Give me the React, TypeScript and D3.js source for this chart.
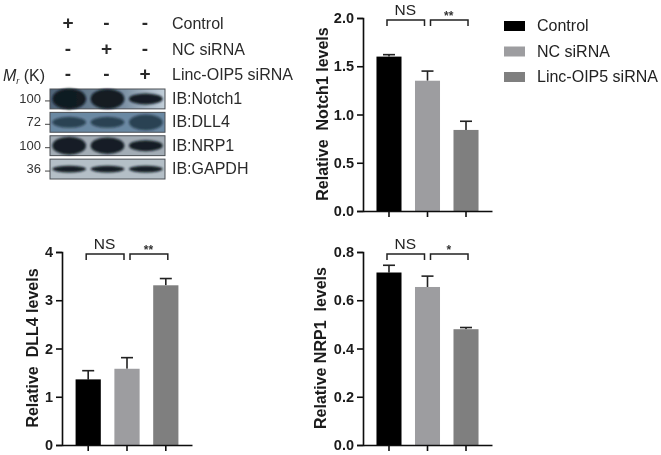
import React, { useEffect, useRef } from 'react';
import * as d3 from 'd3';

const groups = ['Control', 'NC siRNA', 'Linc-OIP5 siRNA'];
const colors = ['#000000', '#9d9da0', '#7f7f7f'];

const notch1Values = [1.6, 1.35, 0.84];
const notch1Errors = [0.02, 0.1, 0.09];
const notch1Ticks = [0, 0.5, 1, 1.5, 2];

const dll4Values = [1.36, 1.58, 3.31];
const dll4Errors = [0.18, 0.23, 0.14];
const dll4Ticks = [0, 1, 2, 3, 4];

const nrp1Values = [0.715, 0.655, 0.48];
const nrp1Errors = [0.03, 0.045, 0.007];
const nrp1Ticks = [0, 0.2, 0.4, 0.6, 0.8];

const plusMinus = [
  ['+', '-', '-'],
  ['-', '+', '-'],
  ['-', '-', '+'],
];
const blotNames = ['IB:Notch1', 'IB:DLL4', 'IB:NRP1', 'IB:GAPDH'];
const blotWeights = ['100', '72', '100', '36'];
const blotBackgrounds = ['url(#notchBg)', '#6b89a3', '#a3adb6', '#b4bfc7'];
const blotBands = [
  [0.95, 0.9, 0.42],
  [0.42, 0.42, 0.68],
  [0.8, 0.72, 0.42],
  [0.2, 0.2, 0.2],
];
const blotDarkness = [0.95, 0.6, 0.95, 0.95];

const FONT = '"Liberation Sans", Arial, sans-serif';

const Panel = ({ left, right, top, bottom, max, ticks, tickFormat, values, errors, label, labelX, labelY, star, bracketY }: any) => {
  const yRef = useRef<SVGGElement>(null);
  const xRef = useRef<SVGGElement>(null);

  const x = d3.scaleBand().domain(groups).range([left, right]).paddingInner(0.35).paddingOuter(0.35);
  const y = d3.scaleLinear().domain([0, max]).range([bottom, top]);

  useEffect(() => {
    const yAxis = d3.axisLeft(y).tickValues(ticks).tickSize(6).tickPadding(3).tickFormat(tickFormat);
    const yG = d3.select(yRef.current).call(yAxis as any);
    yG.selectAll('path,line').attr('stroke', '#111').attr('stroke-width', 1.6);
    yG.selectAll('text')
      .attr('fill', '#1a1a1a')
      .style('font-family', FONT)
      .style('font-size', '14.5px')
      .style('font-weight', 'bold');

    const xG = d3.select(xRef.current).call(d3.axisBottom(x).tickSize(6).tickSizeOuter(0).tickFormat(() => '') as any);
    xG.selectAll('path,line').attr('stroke', '#111').attr('stroke-width', 1.6);
  }, []);

  const cx = (i: number) => (x(groups[i]) as number) + x.bandwidth() / 2;
  const bracket = (a: number, b: number) =>
    `M${cx(a) - 2},${bracketY + 6}V${bracketY}H${cx(b) - 3}V${bracketY + 6}`;
  const bracket2 = (a: number, b: number) =>
    `M${cx(a) + 3},${bracketY + 6}V${bracketY}H${cx(b) + 2}V${bracketY + 6}`;

  return (
    <g>
      {values.map((v: number, i: number) => (
        <g key={groups[i]}>
          <line x1={cx(i)} x2={cx(i)} y1={y(v)} y2={y(v + errors[i])} stroke="#222" strokeWidth={1.6} />
          <line x1={cx(i) - 6} x2={cx(i) + 6} y1={y(v + errors[i])} y2={y(v + errors[i])} stroke="#222" strokeWidth={1.6} />
          <rect x={x(groups[i])} y={y(v)} width={x.bandwidth()} height={bottom - y(v)} fill={colors[i]} />
        </g>
      ))}
      <g ref={yRef} transform={`translate(${left},0)`} />
      <g ref={xRef} transform={`translate(0,${bottom})`} />
      <path d={bracket(0, 1)} fill="none" stroke="#222" strokeWidth={1.5} />
      <path d={bracket2(1, 2)} fill="none" stroke="#222" strokeWidth={1.5} />
      <text x={(cx(0) + cx(1)) / 2 - 3} y={bracketY - 5} textAnchor="middle" fontSize={15.5} fill="#222">NS</text>
      <text x={(cx(1) + cx(2)) / 2 + 2} y={bracketY + 0} textAnchor="middle" fontSize={12} fontWeight="bold" fill="#333">{star}</text>
      <text
        transform={`translate(${labelX},${labelY}) rotate(-90)`}
        textAnchor="middle"
        fontSize={16}
        fontWeight="bold"
        fill="#1a1a1a"
        style={{ whiteSpace: 'pre' }}
      >
        {label}
      </text>
    </g>
  );
};

const Blot = () => {
  const lanes = d3.scaleBand<number>().domain([0, 1, 2]).range([50, 165]).paddingInner(0.12).paddingOuter(0.06);
  const rows = d3.scaleBand<number>().domain([0, 1, 2, 3]).range([89, 179]).paddingInner(0.15).paddingOuter(0);
  const bandHeight = d3.scaleLinear().domain([0, 1]).range([1, rows.bandwidth()]);
  const headerX = d3.scalePoint<number>().domain([0, 1, 2]).range([68, 145]);
  const headerY = d3.scalePoint<number>().domain([0, 1, 2]).range([23, 74]);

  return (
    <g fill="#2a2a2a">
      {plusMinus.map((row, r) => (
        <g key={r}>
          {row.map((s, c) => (
            <text key={c} x={headerX(c)} y={(headerY(r) as number) + 6} textAnchor="middle" fontSize={19} fontWeight="bold">{s}</text>
          ))}
          <text x={172} y={(headerY(r) as number) + 6} fontSize={16}>{groups[r]}</text>
        </g>
      ))}
      <text x={3} y={81} fontSize={16}>
        <tspan fontStyle="italic">M</tspan>
        <tspan fontSize={9} dy={3} fontStyle="italic">r</tspan>
        <tspan dy={-3}> (K)</tspan>
      </text>
      {blotNames.map((name, r) => {
        const ry = rows(r) as number;
        const mid = ry + rows.bandwidth() / 2;
        return (
          <g key={name}>
            <rect x={50} y={ry} width={115} height={rows.bandwidth()} fill={blotBackgrounds[r]} stroke="#4a4f55" strokeWidth={1} />
            <g filter="url(#bandBlur)">
              {blotBands[r].map((v, i) => (
                <ellipse
                  key={i}
                  cx={(lanes(i) as number) + lanes.bandwidth() / 2}
                  cy={mid}
                  rx={lanes.bandwidth() / 2}
                  ry={bandHeight(v) / 2 + 1}
                  fill="#0a1420"
                  opacity={blotDarkness[r]}
                />
              ))}
            </g>
            <text x={41} y={mid + 4} textAnchor="end" fontSize={13} fill="#333">{blotWeights[r]}</text>
            <line x1={45} x2={50} y1={mid + 2} y2={mid + 2} stroke="#444" />
            <text x={172} y={mid + 5} fontSize={16}>{name}</text>
          </g>
        );
      })}
    </g>
  );
};

const Legend = () => {
  const y = d3.scalePoint().domain(groups).range([26, 77]);
  return (
    <g>
      {groups.map((g, i) => (
        <g key={g}>
          <rect x={504} y={(y(g) as number) - 5} width={21} height={10} fill={colors[i]} />
          <text x={537} y={(y(g) as number) + 5} fontSize={16} fill="#222">{g}</text>
        </g>
      ))}
    </g>
  );
};

const oneDecimal = d3.format('.1f');
const integer = d3.format('d');

export default function App() {
  return (
    <svg
      width={661}
      height={455}
      style={{ position: 'absolute', left: 0, top: 0, background: '#fff', fontFamily: FONT }}
    >
      <defs>
        <filter id="bandBlur" x="-10%" y="-40%" width="120%" height="180%">
          <feGaussianBlur stdDeviation="1.3" />
        </filter>
        <filter id="soft" x="0" y="0" width="100%" height="100%">
          <feGaussianBlur stdDeviation="0.4" />
        </filter>
        <linearGradient id="notchBg">
          <stop offset="0%" stopColor="#4f6478" />
          <stop offset="65%" stopColor="#7d92a5" />
          <stop offset="100%" stopColor="#c3d0da" />
        </linearGradient>
      </defs>
      <g filter="url(#soft)">
        <Blot />
        <Legend />
        <Panel
          left={363} right={492} top={18} bottom={211} max={2}
          ticks={notch1Ticks} tickFormat={oneDecimal}
          values={notch1Values} errors={notch1Errors}
          label="Relative  Notch1 levels" labelX={328} labelY={114} star="**" bracketY={20}
        />
        <Panel
          left={62} right={192} top={252} bottom={445} max={4}
          ticks={dll4Ticks} tickFormat={integer}
          values={dll4Values} errors={dll4Errors}
          label="Relative  DLL4 levels" labelX={38} labelY={348} star="**" bracketY={254}
        />
        <Panel
          left={363} right={492} top={252} bottom={445} max={0.8}
          ticks={nrp1Ticks} tickFormat={oneDecimal}
          values={nrp1Values} errors={nrp1Errors}
          label="Relative NRP1  levels" labelX={326} labelY={348} star="*" bracketY={254}
        />
      </g>
    </svg>
  );
}
